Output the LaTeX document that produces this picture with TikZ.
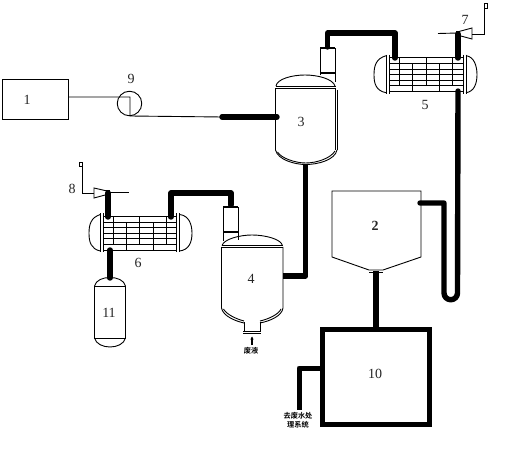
\documentclass[tikz,border=0pt]{standalone}
\usepackage{fontspec}
\usetikzlibrary{arrows.meta}
\setmainfont{Liberation Serif}
\newfontfamily\cjkfont{Noto Sans CJK SC}[BoldFont={* Bold}]
\tikzset{
  thin line/.style={draw=black,line width=0.9pt},
  wall/.style={draw=black,line width=1.6pt},
  pipe/.style={draw=black,line width=5.4pt,line cap=round,line join=round},
  num/.style={inner sep=0pt,font=\fontsize{14}{14}\selectfont,text=black!85},
  note/.style={inner sep=0pt,align=center,font=\cjkfont\bfseries\fontsize{7.2}{9}\selectfont},
}
\newcommand{\exchanger}[6]{% left, right, top, bottom, lefthead, righthead
  \draw[thin line] (#1,#3) rectangle (#2,#4);
  \draw[thin line] (#1-3,#3-3) -- (#1-3,#4+2) (#1,#3-3) -- (#1,#4+2);
  \draw[thin line] (#2,#3-3) -- (#2,#4+2) (#2+3,#3-3) -- (#2+3,#4+2);
  \draw[thin line] (#1-3,#3-2) .. controls (#5+2,#3+1) and (#5,{#3+8}) .. (#5,{(#3+#4)/2}) .. controls (#5,{#4-8}) and (#5+2,#4-1) .. (#1-3,#4+1);
  \draw[thin line] (#2+3,#3-2) .. controls (#6-3,#3-1) and (#6,{#3+8}) .. (#6,{(#3+#4)/2}) .. controls (#6,{#4-8}) and (#6-3,#4) .. (#2+3,#4+1);
  \foreach \f in {0.167,0.34,0.5,0.66,0.83}
    \draw[thin line] (#1,{#3+\f*(#4-#3)}) -- (#2,{#3+\f*(#4-#3)});
  \foreach \f in {0.14,0.5,0.86}
    \draw[thin line] ({#1+\f*(#2-#1)},#3) -- ({#1+\f*(#2-#1)},{#3+0.83*(#4-#3)});
  \foreach \f in {0.32,0.68}
    \draw[thin line] ({#1+\f*(#2-#1)},{#3+0.167*(#4-#3)}) -- ({#1+\f*(#2-#1)},#4);
}
\begin{document}
\begin{tikzpicture}[x=1pt,y=-1pt]
\useasboundingbox (0,0) rectangle (517,449);
\fill[white] (0,0) rectangle (517,449);

% --- named ports
\coordinate (a1) at (68,97);
\coordinate (p9a) at (130,97);
\coordinate (p9b) at (130,116);
\coordinate (t1) at (222,117);
\coordinate (v3in) at (277,117);
\coordinate (c3top) at (327.5,47);
\coordinate (e5a) at (395,58);
\coordinate (e5b) at (458,58);
\coordinate (e5c) at (458,91);
\coordinate (f7) at (458,34);
\coordinate (v3out) at (305.7,165);
\coordinate (v4out) at (283,276);
\coordinate (c4top) at (231,205);
\coordinate (e6a) at (171,217);
\coordinate (e6b) at (108,217);
\coordinate (e6c) at (110,250);
\coordinate (f8) at (108,193);
\coordinate (v11) at (110,278);
\coordinate (h2out) at (376,271);
\coordinate (h2in) at (420,203);
\coordinate (b10top) at (376,328);
\coordinate (b10left) at (321,368);
\coordinate (w10) at (299,410);

% --- box 1 and pump 9
\node[draw=black,line width=0.9pt,minimum width=66pt,minimum height=40pt,inner sep=0pt] (b1) at (35,99) {};
\node[draw=black,line width=0.9pt,circle,minimum size=24.5pt,inner sep=0pt] (p9) at (129.5,103.5) {};
\draw[thin line] (a1) -- (p9a) -- (p9b) -- (t1);

% --- vessel 3
\draw[wall] (275.5,88) -- (275.5,150);
\draw[thin line] (275.5,150) .. controls (278,160) and (295,164.5) .. (305.7,164.5) .. controls (318,164.5) and (335,160) .. (337,150);
\draw[thin line] (277.5,152) .. controls (281,158) and (295,163) .. (305.7,163) .. controls (317,163) and (331,158) .. (335,151);
\draw[thin line] (335.5,88) -- (335.5,150) (337.5,90) -- (337.5,150);
\draw[thin line] (275.5,86) -- (336,86) (275.5,88) -- (336,88);
\draw[thin line] (276,86) .. controls (277,79) and (292,75) .. (305,75) .. controls (318,75) and (333,79) .. (335,86);
% condenser on vessel 3
\draw[thin line] (320,48) rectangle (335,73);
\draw[thin line] (335,73) -- (335,82) (320,73) -- (320,75);
\draw[line width=1.3pt] (320,48) -- (335,48) (320,73) -- (335,73);

% --- exchanger 5
\exchanger{389}{463}{57.7}{91.7}{374}{477}

% --- fan 7
\draw[thin line] (459,31.5) -- (472,28) -- (472,39) -- (459,35.5) -- cycle;
\node[draw=black,line width=0.8pt,minimum size=3pt,inner sep=0pt] (s7) at (458,33) {};
\draw[thin line] (438,33.5) -- (s7);
\draw[thin line] (472,34) -- (484.3,34) -- (484.3,8);
\node[draw=black,line width=0.8pt,minimum width=3pt,minimum height=5pt,inner sep=0pt] (f7flag) at (485.5,5.5) {};

% --- vessel 4
\draw[wall] (221.5,247) -- (221.5,308);
\draw[thin line] (221.5,308) .. controls (223,316) and (235,321) .. (244,323);
\draw[thin line] (283,247) -- (283,308) .. controls (282,316) and (270,321) .. (260,323);
\draw[thin line] (223.5,309) .. controls (226,314) and (236,319) .. (244,321);
\draw[thin line] (281,309) .. controls (279,314) and (269,319) .. (260,321);
\draw[thin line] (221.5,245.5) -- (283,245.5) (221.5,247.5) -- (283,247.5);
\draw[thin line] (222,245.5) .. controls (224,239) and (240,235) .. (252,235) .. controls (265,235) and (281,239) .. (282.5,245.5);
\draw[thin line] (244,322) -- (244,331) (260,322) -- (260,331);
\draw[thin line] (243,331.5) -- (261,331.5) (243,333.5) -- (261,333.5);
\draw[line width=1.6pt,-{Stealth[length=3pt,width=3pt]}] (252,345) -- (252,336.5);
% condenser on vessel 4
\draw[thin line] (223,207) rectangle (238,232);
\draw[thin line] (238,232) -- (238,240) (223,232) -- (223,241);
\draw[line width=1.3pt] (223,207) -- (238,207) (223,232) -- (238,232);

% --- exchanger 6
\exchanger{103.3}{176.5}{216.5}{250}{89}{192}

% --- fan 8
\draw[thin line] (94,188) -- (107,191) -- (107,194.5) -- (94,198) -- cycle;
\node[draw=black,line width=0.8pt,minimum size=3pt,inner sep=0pt] (s8) at (108,192) {};
\draw[thin line] (s8) -- (129,192);
\draw[thin line] (94,193.5) -- (82,193.5) -- (82,167);
\node[draw=black,line width=0.8pt,minimum width=3.5pt,minimum height=4pt,inner sep=0pt] (f8flag) at (81,164.5) {};

% --- vessel 11
\draw[thin line] (94.5,286) rectangle (125.5,338);
\draw[thin line] (94.5,286) .. controls (96,280) and (103,277.5) .. (110,277.5) .. controls (117,277.5) and (124,280) .. (125.5,286);
\draw[thin line] (94.5,338) .. controls (96,344) and (103,347) .. (110,347) .. controls (117,347) and (124,344) .. (125.5,338);

% --- hopper 2
\draw[thin line] (332,191) -- (421,191) -- (421,257) -- (383,270) -- (369,270) -- (332,257) -- cycle;
\draw[thin line] (369,272) -- (383,272);

% --- box 10
\node[draw=black,line width=5pt,minimum width=107pt,minimum height=95pt,inner sep=0pt] (b10) at (376,377) {};

% --- pipes
\draw[pipe] (t1) -- (v3in);
\draw[pipe] (c3top) |- (395,33) -- (e5a);
\draw[pipe] (e5b) -- (f7);
\draw[pipe] (e5c) -- (457.5,293) arc[start angle=0,end angle=180,radius=6.75] -- (444,210) |- (h2in);
\draw[pipe,line cap=butt] (v3out) -- (305.7,276) -- (v4out);
\draw[pipe] (c4top) |- (171,193) -- (e6a);
\draw[pipe] (e6b) -- (f8);
\draw[pipe] (e6c) -- (v11);
\draw[pipe,line cap=butt] (h2out) -- (b10top);
\draw[pipe,line cap=butt,line width=5pt] (b10left) -| (299,373) -- (w10);

% --- labels
\node[num] (n1) at (27,100) {1};
\node[num] (n9) at (131,79) {9};
\node[num] (n3) at (301,122) {3};
\node[num] (n5) at (425,105) {5};
\node[num] (n7) at (465,20) {7};
\node[num] (n8) at (72,189) {8};
\node[num] (n6) at (138,263) {6};
\node[num] (n4) at (251,279) {4};
\node[num] (n11) at (109,313) {11};
\node[num,font=\bfseries\fontsize{14}{14}\selectfont] (n2) at (375,226) {2};
\node[num] (n10) at (375,374) {10};
\node[note] (waste) at (251,351) {废液};
\node[note] (ww) at (298,420) {去废水处\\理系统};
\end{tikzpicture}
\end{document}
